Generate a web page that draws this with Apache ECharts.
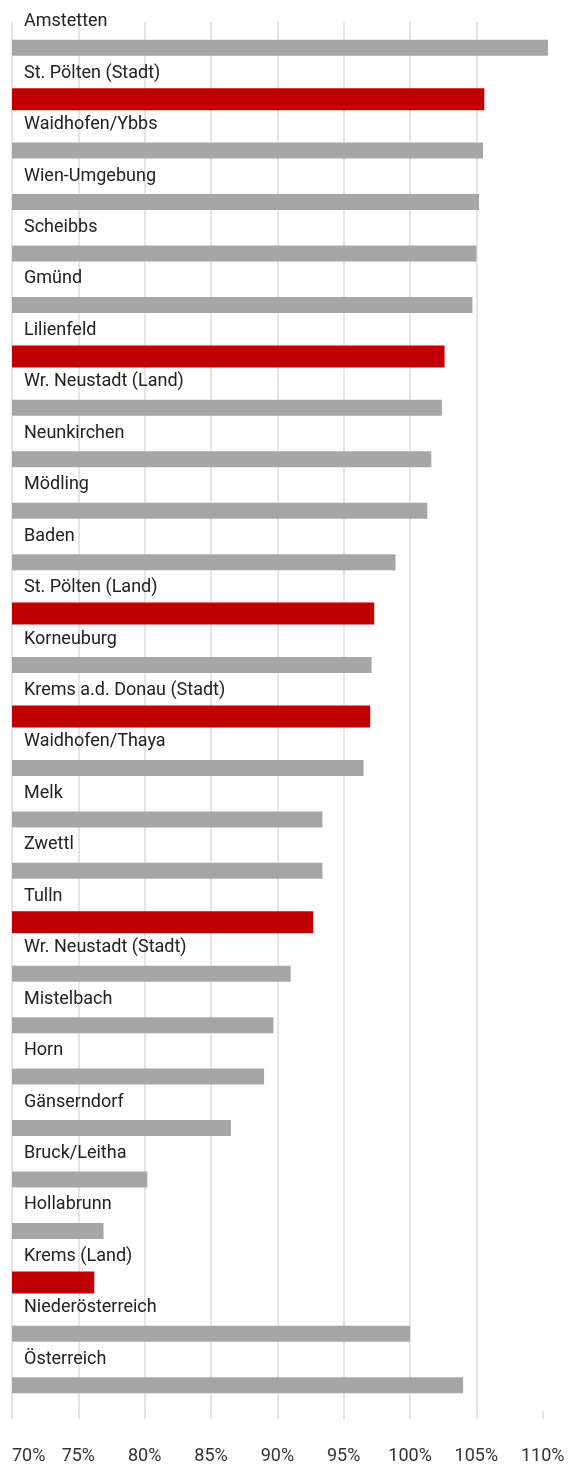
<!DOCTYPE html>
<html>
<head>
<meta charset="utf-8">
<script src="https://cdn.jsdelivr.net/npm/echarts@6/dist/echarts.min.js"></script>
<style>
  html, body { margin: 0; padding: 0; background: #fff; }
  #chart { width: 571px; height: 1465px; }
</style>
</head>
<body>
<div id="chart"></div>
<script>
// Bezirke, sorted as shown (top to bottom)
const categories = [
  'Amstetten', 'St. Pölten (Stadt)', 'Waidhofen/Ybbs', 'Wien-Umgebung', 'Scheibbs',
  'Gmünd', 'Lilienfeld', 'Wr. Neustadt (Land)', 'Neunkirchen', 'Mödling',
  'Baden', 'St. Pölten (Land)', 'Korneuburg', 'Krems a.d. Donau (Stadt)', 'Waidhofen/Thaya',
  'Melk', 'Zwettl', 'Tulln', 'Wr. Neustadt (Stadt)', 'Mistelbach',
  'Horn', 'Gänserndorf', 'Bruck/Leitha', 'Hollabrunn', 'Krems (Land)',
  'Niederösterreich', 'Österreich'
];

// Percentage value per category
const values = [
  110.4, 105.6, 105.5, 105.2, 105.0,
  104.7, 102.6, 102.4, 101.6, 101.3,
  98.9, 97.3, 97.1, 97.0, 96.5,
  93.4, 93.4, 92.7, 91.0, 89.7,
  89.0, 86.5, 80.2, 76.9, 76.2,
  100.0, 104.0
];

// Highlighted districts (drawn in red)
const highlighted = [
  'St. Pölten (Stadt)', 'Lilienfeld', 'St. Pölten (Land)',
  'Krems a.d. Donau (Stadt)', 'Tulln', 'Krems (Land)'
];

// X axis: labelled ticks, plus a little headroom past the last tick
const tickValues = [70, 75, 80, 85, 90, 95, 100, 105, 110];
const xMin = 70;
const xMax = 111;

const FONT = 'Roboto, "Noto Sans", sans-serif';

const greyData = categories.map((c, i) => highlighted.includes(c) ? '-' : values[i]);
const redData = categories.map((c, i) => highlighted.includes(c) ? values[i] : '-');

const chart = echarts.init(document.getElementById('chart'), null, { renderer: 'canvas' });

chart.setOption({
  animation: false,
  backgroundColor: '#ffffff',
  grid: { left: 12, right: 15, top: 22, bottom: 52, containLabel: false },
  xAxis: {
    type: 'value',
    min: xMin,
    max: xMax,
    axisLine: { show: false },
    axisTick: {
      show: true,
      length: 8,
      customValues: tickValues,
      lineStyle: { color: '#dcdcdc', width: 1.5 }
    },
    splitLine: {
      show: true,
      showMaxLine: false,
      lineStyle: { color: '#dcdcdc', width: 1.5 }
    },
    axisLabel: {
      customValues: tickValues,
      formatter: '{value}%',
      margin: 36,
      fontFamily: FONT,
      fontSize: 18,
      color: '#333',
      alignMinLabel: 'left'
    }
  },
  yAxis: [
    {
      type: 'category',
      data: categories,
      inverse: true,
      axisLine: { show: false },
      axisTick: { show: false },
      splitLine: { show: false },
      axisLabel: {
        inside: true,
        margin: 12,
        verticalAlign: 'bottom',
        padding: [0, 0, 17, 0],
        fontFamily: FONT,
        fontSize: 18,
        color: '#222'
      },
      z: 10
    },
    {
      type: 'category',
      data: categories,
      inverse: true,
      show: false
    }
  ],
  series: [
    {
      name: 'grau',
      type: 'bar',
      yAxisIndex: 0,
      data: greyData,
      barWidth: 16,
      itemStyle: { color: '#a6a6a6' }
    },
    {
      name: 'rot',
      type: 'bar',
      yAxisIndex: 1,
      data: redData,
      barWidth: 22,
      itemStyle: { color: '#c00000' }
    }
  ]
});
</script>
</body>
</html>
